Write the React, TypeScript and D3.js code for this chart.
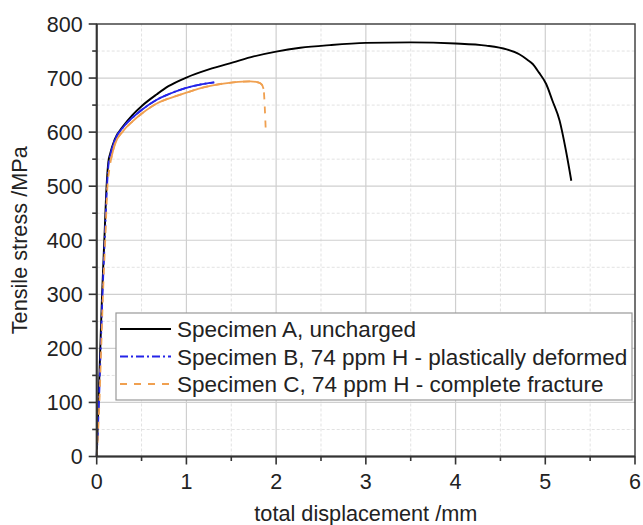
import React from "react";
import * as d3 from "d3";

// values: [displacement mm, stress MPa]
const specimenA: [number, number][] = [
  [0, 0], [0.02, 100], [0.04, 200], [0.06, 300], [0.085, 400], [0.11, 500],
  [0.13, 545], [0.15, 560], [0.2, 586], [0.3, 612], [0.4, 632], [0.5, 648],
  [0.67, 670], [0.8, 685], [1.0, 701], [1.25, 716], [1.52, 729], [1.75, 740],
  [2.0, 749], [2.27, 756], [2.6, 761], [3.0, 765], [3.5, 766], [4.0, 764],
  [4.34, 760], [4.57, 753], [4.71, 744], [4.8, 734], [4.86, 726], [4.93, 710],
  [5.01, 689], [5.08, 658], [5.16, 621], [5.23, 566], [5.29, 510],
];
const specimenB: [number, number][] = [
  [0, 0], [0.025, 100], [0.045, 200], [0.065, 300], [0.09, 400], [0.115, 500],
  [0.135, 545], [0.15, 556], [0.2, 584], [0.3, 610], [0.4, 627], [0.5, 641],
  [0.67, 660], [0.8, 670], [1.0, 682], [1.15, 688], [1.31, 692],
];
const specimenC: [number, number][] = [
  [0, 0], [0.03, 100], [0.05, 200], [0.07, 300], [0.095, 400], [0.12, 500],
  [0.14, 530], [0.16, 550], [0.2, 576], [0.3, 603], [0.4, 620], [0.5, 634],
  [0.67, 653], [0.8, 662], [1.0, 673], [1.15, 681], [1.31, 687], [1.52, 692],
  [1.71, 694], [1.8, 692], [1.84, 688], [1.86, 680], [1.875, 640], [1.885, 600],
];

const xTicks = [0, 1, 2, 3, 4, 5, 6];
const yTicks = [0, 100, 200, 300, 400, 500, 600, 700, 800];
const legendLabels = [
  "Specimen A, uncharged",
  "Specimen B, 74 ppm H - plastically deformed",
  "Specimen C, 74 ppm H - complete fracture",
];

const W = 643;
const H = 525;
const FONT = "'Liberation Sans', Arial, sans-serif";

export default function App() {
  const x = d3.scaleLinear().domain([0, 6]).range([96.7, 635]);
  const y = d3.scaleLinear().domain([0, 800]).range([456.5, 24]);

  const line = d3
    .line<[number, number]>()
    .x((d) => x(d[0]))
    .y((d) => y(d[1]))
    .curve(d3.curveMonotoneX);

  const xMinor = d3.range(0.5, 6, 1);
  const yMinor = d3.range(50, 800, 100);

  // dense noisy data makes the patterned lines look solid in the plastic part
  const bSolid = specimenB.filter((d) => d[0] >= 0.15);
  const cSolid = specimenC.filter((d) => d[0] >= 0.16 && d[0] <= 1.86);

  const blue = "#2424e8";
  const orange = "#f0a050";

  const series = [
    { stroke: "#000", dash: "none", width: 1.8 },
    { stroke: blue, dash: "8,3,2,3", width: 1.8 },
    { stroke: orange, dash: "7,7", width: 1.8 },
  ];

  const [x0, x1] = x.range();
  const [y0, y1] = y.range();

  return (
    <svg
      width={W}
      height={H}
      style={{ position: "absolute", left: 0, top: 0, background: "#fff" }}
      fontFamily={FONT}
    >
      {/* minor grid */}
      <g stroke="#e2e2e2" strokeWidth={1} strokeDasharray="3,2">
        {xMinor.map((t) => (
          <line key={"xm" + t} x1={x(t)} x2={x(t)} y1={y0} y2={y1} />
        ))}
        {yMinor.map((t) => (
          <line key={"ym" + t} x1={x0} x2={x1} y1={y(t)} y2={y(t)} />
        ))}
      </g>
      {/* major grid */}
      <g stroke="#cfcfcf" strokeWidth={1.2}>
        {xTicks.slice(1, -1).map((t) => (
          <line key={"xg" + t} x1={x(t)} x2={x(t)} y1={y0} y2={y1} />
        ))}
        {yTicks.slice(1, -1).map((t) => (
          <line key={"yg" + t} x1={x0} x2={x1} y1={y(t)} y2={y(t)} />
        ))}
      </g>

      {/* curves */}
      <path d={line(specimenA) ?? ""} fill="none" stroke="#000" strokeWidth={1.9} />
      <path d={line(specimenB) ?? ""} fill="none" stroke={blue} strokeWidth={1.8} strokeDasharray="8,3,2,3" />
      <path d={line(bSolid) ?? ""} fill="none" stroke={blue} strokeWidth={1.8} />
      <path d={line(specimenC) ?? ""} fill="none" stroke={orange} strokeWidth={1.8} strokeDasharray="7,7" />
      <path d={line(cSolid) ?? ""} fill="none" stroke={orange} strokeWidth={1.8} />

      {/* frame */}
      <rect x={x0} y={y1} width={x1 - x0} height={y0 - y1} fill="none" stroke="#444" strokeWidth={1.5} />
      <line x1={x0} x2={x0} y1={y0} y2={y1} stroke="#333" strokeWidth={2} />
      <line x1={x0} x2={x1} y1={y0} y2={y0} stroke="#333" strokeWidth={2} />

      {/* ticks */}
      <g stroke="#333" strokeWidth={1.6}>
        {yTicks.map((t) => (
          <line key={"yt" + t} x1={x0 - 8} x2={x0} y1={y(t)} y2={y(t)} />
        ))}
        {yMinor.map((t) => (
          <line key={"ymt" + t} x1={x0 - 4.5} x2={x0} y1={y(t)} y2={y(t)} />
        ))}
        {xTicks.map((t) => (
          <line key={"xt" + t} x1={x(t)} x2={x(t)} y1={y0} y2={y0 + 8} />
        ))}
        {xMinor.map((t) => (
          <line key={"xmt" + t} x1={x(t)} x2={x(t)} y1={y0} y2={y0 + 4.5} />
        ))}
      </g>
      <g fontSize={21.5} fill="#222">
        {yTicks.map((t) => (
          <text key={"yl" + t} x={x0 - 14} y={y(t)} dy="0.36em" textAnchor="end">
            {t}
          </text>
        ))}
        {xTicks.map((t) => (
          <text key={"xl" + t} x={x(t)} y={y0 + 32.5} textAnchor="middle">
            {t}
          </text>
        ))}
      </g>

      {/* axis titles */}
      <text x={(x0 + x1) / 2} y={521} textAnchor="middle" fontSize={21.7} fill="#222">
        total displacement /mm
      </text>
      <text
        transform={`translate(27,${(y0 + y1) / 2}) rotate(-90)`}
        textAnchor="middle"
        fontSize={21.7}
        fill="#222"
      >
        Tensile stress /MPa
      </text>

      {/* legend */}
      <g>
        <rect x={116} y={313} width={516} height={87} fill="#fff" stroke="#999" strokeWidth={1.2} />
        {legendLabels.map((label, i) => {
          const ly = 329 + i * 27.5;
          const s = series[i];
          return (
            <g key={label}>
              <line x1={120} x2={171} y1={ly} y2={ly} stroke={s.stroke} strokeWidth={s.width} strokeDasharray={s.dash} />
              <text x={177} y={ly} dy="0.36em" fontSize={22.5} fill="#222">
                {label}
              </text>
            </g>
          );
        })}
      </g>
    </svg>
  );
}
